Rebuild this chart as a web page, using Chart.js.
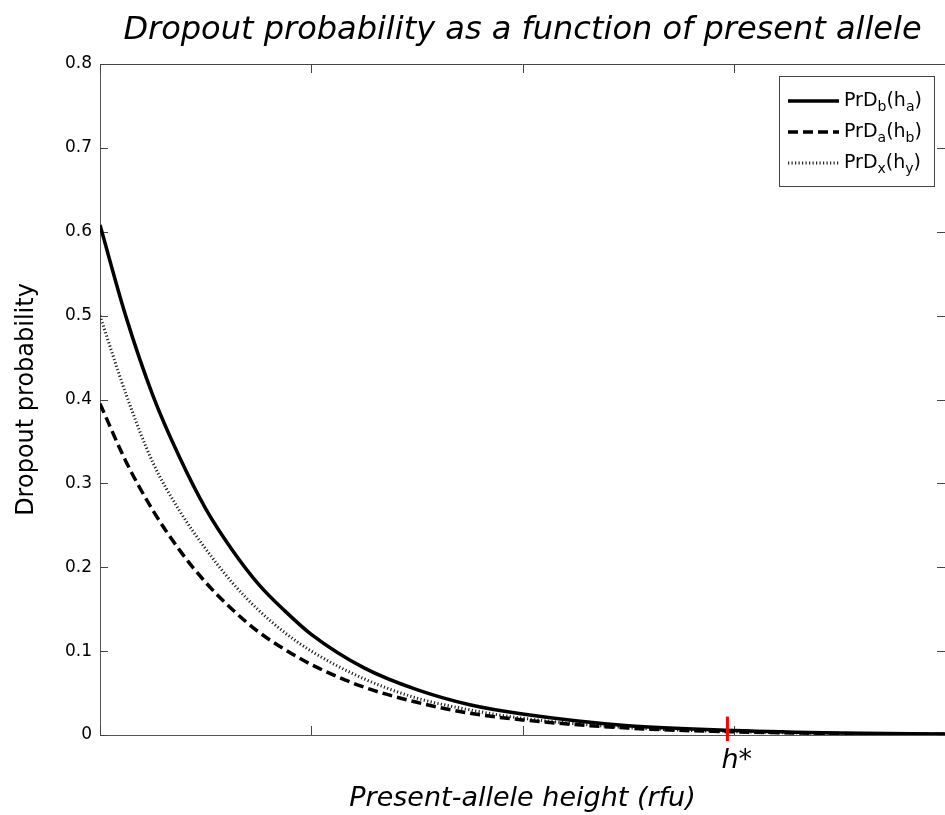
<!DOCTYPE html>
<html>
<head>
<meta charset="utf-8">
<script src="https://cdn.jsdelivr.net/npm/chart.js@4.4.1/dist/chart.umd.min.js"></script>
<style>
  html, body { margin: 0; padding: 0; background: #fff; }
  canvas { display: block; }
</style>
</head>
<body>
<canvas id="dropoutChart" width="945" height="815"></canvas>
<script>
// present-allele height (rfu)
const heights = [0, 12.5, 25, 37.5, 50, 62.5, 75, 87.5, 100, 125, 150, 175, 200, 250, 300, 350, 400];
// dropout probability of each curve
const dropB = [0.608, 0.497, 0.405, 0.332, 0.270, 0.221, 0.180, 0.148, 0.120, 0.080, 0.054, 0.036, 0.025, 0.011, 0.0055, 0.0025, 0.0012];
const dropA = [0.395, 0.325, 0.268, 0.221, 0.182, 0.150, 0.123, 0.102, 0.084, 0.057, 0.039, 0.026, 0.018, 0.0082, 0.0038, 0.0018, 0.0008];
const dropX = [0.500, 0.405, 0.325, 0.268, 0.222, 0.182, 0.149, 0.122, 0.100, 0.067, 0.044, 0.030, 0.020, 0.0088, 0.0040, 0.0018, 0.0008];
const legendLabels = ['PrD_b(h_a)', 'PrD_a(h_b)', 'PrD_x(h_y)'];

// threshold marker on the x axis
const hStar = 297;
const hStarTop = 0.022;

const FONT = '"DejaVu Sans", Verdana, sans-serif';

function points(values) {
  return heights.map((h, i) => ({ x: h, y: values[i] }));
}

// text with _x subscripts, e.g. PrD_b(h_a)
function drawSubscripted(ctx, text, x, y) {
  const parts = text.split(/_(\w)/);
  parts.forEach((p, i) => {
    const sub = i % 2 === 1;
    ctx.font = (sub ? '14px ' : '19px ') + FONT;
    ctx.fillText(p, x, sub ? y + 6 : y);
    x += ctx.measureText(p).width;
  });
}

// inward tick marks and the top edge of the box
const axesFrame = {
  id: 'axesFrame',
  beforeDatasetsDraw(chart) {
    const { ctx, chartArea: a, scales: { x, y } } = chart;
    ctx.save();
    ctx.lineWidth = 1;
    ctx.strokeStyle = '#444';
    ctx.beginPath();
    ctx.moveTo(a.left, a.top + 0.5);
    ctx.lineTo(a.right, a.top + 0.5);
    y.ticks.forEach(t => {
      const py = Math.round(y.getPixelForValue(t.value)) + 0.5;
      ctx.moveTo(a.left, py); ctx.lineTo(a.left + 8, py);
      ctx.moveTo(a.right, py); ctx.lineTo(a.right - 8, py);
    });
    x.ticks.forEach(t => {
      const px = Math.round(x.getPixelForValue(t.value)) + 0.5;
      ctx.moveTo(px, a.bottom); ctx.lineTo(px, a.bottom - 9);
      ctx.moveTo(px, a.top); ctx.lineTo(px, a.top + 9);
    });
    ctx.stroke();
    ctx.restore();
  },
  afterDraw(chart) {
    const { ctx, chartArea: a, scales: { x, y } } = chart;
    ctx.save();

    // h* marker
    const hx = x.getPixelForValue(hStar);
    ctx.strokeStyle = '#ff0000';
    ctx.lineWidth = 3;
    ctx.beginPath();
    ctx.moveTo(hx, y.getPixelForValue(hStarTop));
    ctx.lineTo(hx, a.bottom + 6);
    ctx.stroke();
    ctx.fillStyle = '#000';
    ctx.font = 'italic 27px ' + FONT;
    ctx.textBaseline = 'alphabetic';
    ctx.fillText('h*', hx - 6, a.bottom + 33);

    // legend box
    const box = { left: 779, top: 76, width: 155, height: 110 };
    ctx.fillStyle = '#fff';
    ctx.fillRect(box.left, box.top, box.width, box.height);
    ctx.strokeStyle = '#444';
    ctx.lineWidth = 1;
    ctx.strokeRect(box.left + 0.5, box.top + 0.5, box.width, box.height);

    chart.data.datasets.forEach((ds, i) => {
      const ry = box.top + 25 + i * 31;
      ctx.strokeStyle = ds.borderColor;
      ctx.lineWidth = ds.borderWidth;
      ctx.setLineDash(ds.borderDash || []);
      ctx.beginPath();
      ctx.moveTo(box.left + 9, ry);
      ctx.lineTo(box.left + 60, ry);
      ctx.stroke();
      ctx.setLineDash([]);
      ctx.fillStyle = '#000';
      ctx.textBaseline = 'middle';
      drawSubscripted(ctx, ds.label, box.left + 65, ry);
    });
    ctx.restore();
  }
};

new Chart(document.getElementById('dropoutChart'), {
  type: 'line',
  data: {
    datasets: [
      { label: legendLabels[0], data: points(dropB), borderColor: '#000', borderWidth: 3.5 },
      { label: legendLabels[1], data: points(dropA), borderColor: '#000', borderWidth: 3.5, borderDash: [10, 5] },
      { label: legendLabels[2], data: points(dropX), borderColor: '#222', borderWidth: 3, borderDash: [1.2, 2.3] }
    ]
  },
  options: {
    responsive: false,
    animation: false,
    devicePixelRatio: 1,
    layout: { padding: 0 },
    elements: {
      point: { radius: 0 },
      line: { cubicInterpolationMode: 'monotone', fill: false }
    },
    plugins: {
      legend: { display: false },
      tooltip: { enabled: false },
      title: {
        display: true,
        fullSize: false,
        text: 'Dropout probability as a function of present allele',
        color: '#000',
        font: { family: FONT, size: 32, style: 'italic', weight: 'normal' },
        padding: { top: 11, bottom: 14.6 }
      }
    },
    scales: {
      x: {
        type: 'linear',
        min: 0,
        max: 400,
        ticks: { display: false, stepSize: 100 },
        grid: { display: false, drawTicks: false },
        border: { display: true, color: '#555' },
        title: {
          display: true,
          text: 'Present-allele height (rfu)',
          color: '#000',
          font: { family: FONT, size: 27, style: 'italic', weight: 'normal' },
          padding: { top: 0, bottom: 0 }
        },
        afterFit(scale) { scale.height = 80; }
      },
      y: {
        min: 0,
        max: 0.8,
        ticks: {
          stepSize: 0.1,
          padding: 8,
          color: '#000',
          font: { family: FONT, size: 17 },
          callback: v => (v === 0 ? '0' : v.toFixed(1))
        },
        grid: { display: false, drawTicks: false },
        border: { display: true, color: '#555' },
        title: {
          display: true,
          text: 'Dropout probability',
          color: '#000',
          font: { family: FONT, size: 24, weight: 'normal' },
          padding: { top: 12, bottom: 0 }
        },
        afterFit(scale) { scale.width = 100; }
      }
    }
  },
  plugins: [axesFrame]
});
</script>
</body>
</html>
